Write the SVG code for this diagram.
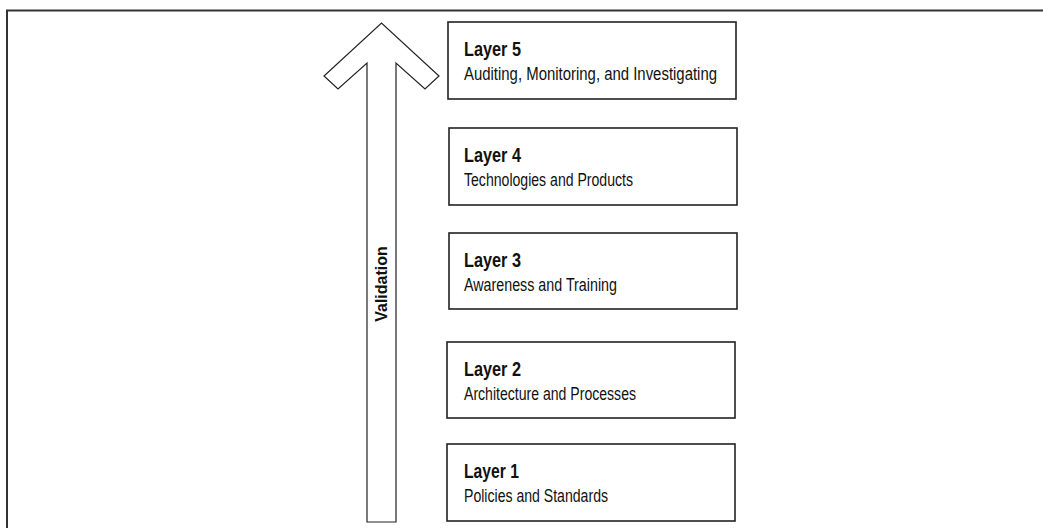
<svg xmlns="http://www.w3.org/2000/svg" width="1043" height="528" viewBox="0 0 1043 528">
  <style>
    .frame { fill: none; stroke: #333; stroke-width: 2; }
    .box { fill: #fff; stroke: #222; stroke-width: 1.6; }
    .arrow { fill: #fff; stroke: #222; stroke-width: 1.2; stroke-linejoin: miter; }
    .title { font-family: "Liberation Sans", Arial, sans-serif; font-weight: bold; font-size: 20.5px; fill: #111; }
    .sub { font-family: "Liberation Sans", Arial, sans-serif; font-size: 17.5px; fill: #111; }
    .label { font-family: "Liberation Sans", Arial, sans-serif; font-weight: bold; font-size: 16px; fill: #111; }
  </style>
  <rect width="1043" height="528" fill="#fff"/>

  <!-- figure frame -->
  <path class="frame" d="M7,529 L7,10.5 L1044,10.5"/>

  <!-- validation arrow -->
  <g id="connectors">
    <polygon class="arrow" points="367,522 367,63 338,89 324,76 381.5,23 439,76 425,89 396,63 396,522"/>
    <text class="label" transform="translate(387,284) rotate(-90)" text-anchor="middle">Validation</text>
  </g>

  <g id="layer5">
    <rect class="box" x="448" y="22" width="288" height="77"/>
    <text class="title" x="464" y="56" textLength="57" lengthAdjust="spacingAndGlyphs">Layer 5</text>
    <text class="sub" x="464" y="80" textLength="253" lengthAdjust="spacingAndGlyphs">Auditing, Monitoring, and Investigating</text>
  </g>

  <g id="layer4">
    <rect class="box" x="449" y="128" width="288" height="77"/>
    <text class="title" x="464" y="162" textLength="57" lengthAdjust="spacingAndGlyphs">Layer 4</text>
    <text class="sub" x="464" y="186" textLength="169" lengthAdjust="spacingAndGlyphs">Technologies and Products</text>
  </g>

  <g id="layer3">
    <rect class="box" x="449" y="233" width="288" height="76"/>
    <text class="title" x="464" y="267" textLength="57" lengthAdjust="spacingAndGlyphs">Layer 3</text>
    <text class="sub" x="464" y="291" textLength="153" lengthAdjust="spacingAndGlyphs">Awareness and Training</text>
  </g>

  <g id="layer2">
    <rect class="box" x="447" y="342" width="288" height="76"/>
    <text class="title" x="464" y="376" textLength="57" lengthAdjust="spacingAndGlyphs">Layer 2</text>
    <text class="sub" x="464" y="400" textLength="172" lengthAdjust="spacingAndGlyphs">Architecture and Processes</text>
  </g>

  <g id="layer1">
    <rect class="box" x="447" y="444" width="288" height="77"/>
    <text class="title" x="464" y="478" textLength="55" lengthAdjust="spacingAndGlyphs">Layer 1</text>
    <text class="sub" x="464" y="502" textLength="144" lengthAdjust="spacingAndGlyphs">Policies and Standards</text>
  </g>
</svg>
